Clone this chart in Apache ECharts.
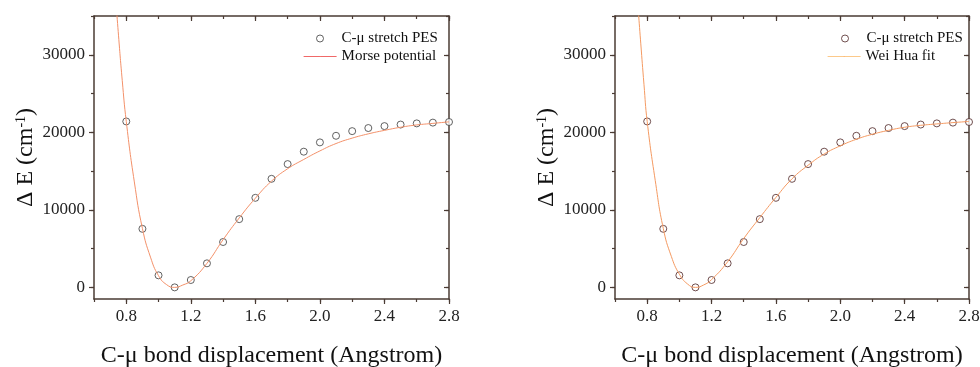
<!DOCTYPE html>
<html><head><meta charset="utf-8">
<script src="https://cdn.jsdelivr.net/npm/echarts@6/dist/echarts.min.js"></script>
<style>html,body{margin:0;padding:0;background:#fff}#c{width:980px;height:367px}</style>
</head><body><div id="c"></div>
<script>
// ---- data ----
const pesX = [0.8,0.9,1.0,1.1,1.2,1.3,1.4,1.5,1.6,1.7,1.8,1.9,2.0,2.1,2.2,2.3,2.4,2.5,2.6,2.7,2.8];
const pesY = [21400,7550,1550,0,950,3100,5850,8800,11550,14000,15900,17500,18700,19550,20150,20550,20800,21000,21150,21250,21330];
const morseX = [0.73,0.75,0.775,0.8,0.85,0.9,0.95,1.0,1.05,1.1,1.15,1.2,1.3,1.4,1.5,1.6,1.7,1.8,1.9,2.0,2.1,2.2,2.3,2.4,2.5,2.6,2.7,2.8];
const morseY = [38500,33000,26700,21400,13600,7600,3900,1500,350,0,300,850,3100,6150,8950,11500,13700,15300,16500,17600,18550,19250,19800,20250,20650,20950,21150,21350];
const weiX = [0.74,0.76,0.78,0.8,0.85,0.9,0.95,1.0,1.05,1.1,1.15,1.2,1.3,1.4,1.5,1.6,1.7,1.8,1.9,2.0,2.1,2.2,2.3,2.4,2.5,2.6,2.7,2.8];
const weiY = [37000,31500,26200,21400,13800,7600,4000,1700,450,0,300,1000,3300,6300,9000,11600,14000,15750,17200,18250,19100,19750,20250,20650,20900,21080,21250,21400];
const xTickLabels = ['0.8','1.2','1.6','2.0','2.4','2.8'];
const yTickLabels = ['0','10000','20000','30000'];
const xTitle = 'C-μ bond displacement (Angstrom)';
const yTitle = '{a|Δ E (cm}{s|-1}{a|)}';
const pesName = 'C-μ stretch PES';
const fitNames = ['Morse potential', 'Wei Hua fit'];

// ---- layout / style ----
const FONT = 'Liberation Serif';
const AX = '#4a3b33';
const XMIN = 0.6, XMAX = 2.8, YMIN = -1500, YMAX = 35000;
const panels = [
  {L:94, R:449, T:16, B:299, legendLeft1:311, legendLeft2:298, pesColor:'#3c3c3c', fx:morseX, fy:morseY, fitColor:'#f3916a', legendLine:'#f06868'},
  {L:615, R:969, T:16, B:299, legendLeft1:836, legendLeft2:822, pesColor:'#4e2424', fx:weiX, fy:weiY, fitColor:'#f49a62', legendLine:'#fcc98a'}
];
const px = (p, v) => p.L + (v - XMIN) / (XMAX - XMIN) * (p.R - p.L);
const py = (p, v) => p.B - (v - YMIN) / (YMAX - YMIN) * (p.B - p.T);

const grid = [], xAxis = [], yAxis = [], series = [], legend = [];
const line = (show) => ({show: show, onZero: false, lineStyle: {color: AX, width: 1.5}});
const tick = (show, inside, len) => ({show: show, inside: inside, length: len, lineStyle: {color: AX, width: 1.2}});
const noSplit = {show: false};
const mkGrid = (l, t, w, h) => ({left: l, top: t, width: w, height: h, containLabel: false, outerBoundsMode: 'none'});
const legendText = {fontFamily: FONT, fontSize: 15, color: '#111'};

panels.forEach((p, i) => {
  // g0 : data grid with frame
  const g0 = grid.length;
  grid.push(mkGrid(p.L, p.T, p.R - p.L, p.B - p.T));
  const x0 = xAxis.length;
  xAxis.push({type:'value', gridIndex:g0, position:'bottom', min:XMIN, max:XMAX, interval:0.2,
    axisLine: line(true), axisTick: tick(true, false, 3), axisLabel: {show:false}, splitLine: noSplit,
    name: xTitle, nameLocation:'middle', nameGap: 45,
    nameTextStyle: {fontFamily: FONT, fontSize: 24, color: '#111'}});
  xAxis.push({type:'value', gridIndex:g0, position:'top', min:XMIN, max:XMAX, interval:0.2,
    axisLine: line(true), axisTick: tick(true, true, 3), axisLabel: {show:false}, splitLine: noSplit});
  const y0 = yAxis.length;
  yAxis.push({type:'value', gridIndex:g0, position:'left', min:YMIN, max:YMAX,
    axisLine: line(true), axisTick: {show:false}, axisLabel: {show:false}, splitLine: noSplit,
    name: yTitle, nameLocation:'middle', nameRotate: 90, nameGap: 56,
    nameTextStyle: {fontFamily: FONT, fontSize: 24, color: '#111',
      rich: {a: {fontFamily: FONT, fontSize: 24, color: '#111'},
             s: {fontFamily: FONT, fontSize: 14, color: '#111', verticalAlign: 'top', padding: [0, 0, 8, 0]}}}});
  yAxis.push({type:'value', gridIndex:g0, position:'right', min:YMIN, max:YMAX,
    axisLine: line(true), axisTick: {show:false}, axisLabel: {show:false}, splitLine: noSplit});

  // g1 : major ticks + labels
  const g1 = grid.length;
  const gl = px(p, 0.8), gr = px(p, 2.8), gt = py(p, 30000), gb = py(p, 0);
  grid.push(mkGrid(gl, gt, gr - gl, gb - gt));
  xAxis.push({type:'value', gridIndex:g1, position:'bottom', offset: p.B - gb, min:0.8, max:2.8, interval:0.4,
    axisLine: line(false), axisTick: tick(true, false, 5), splitLine: noSplit,
    axisLabel: {show:true, margin: 9, showMinLabel:true, showMaxLabel:true, fontFamily: FONT, fontSize: 17, color:'#222',
      formatter: (v) => xTickLabels[Math.round((v - 0.8) / 0.4)] || ''}});
  xAxis.push({type:'value', gridIndex:g1, position:'top', offset: gt - p.T, min:0.8, max:2.8, interval:0.4,
    axisLine: line(false), axisTick: tick(true, true, 5), axisLabel: {show:false}, splitLine: noSplit});
  yAxis.push({type:'value', gridIndex:g1, position:'left', offset: gl - p.L, min:0, max:30000, interval:10000,
    axisLine: line(false), axisTick: tick(true, false, 5), splitLine: noSplit,
    axisLabel: {show:true, margin: 9, showMinLabel:true, showMaxLabel:true, fontFamily: FONT, fontSize: 17, color:'#222',
      formatter: (v) => yTickLabels[Math.round(v / 10000)] || ''}});
  yAxis.push({type:'value', gridIndex:g1, position:'right', offset: p.R - gr, min:0, max:30000, interval:10000,
    axisLine: line(false), axisTick: tick(true, true, 5), axisLabel: {show:false}, splitLine: noSplit});

  // g2 : minor y ticks
  const g2 = grid.length;
  grid.push(mkGrid(p.L, p.T, p.R - p.L, gb - p.T));
  xAxis.push({type:'value', gridIndex:g2, show:false, min:XMIN, max:XMAX});
  yAxis.push({type:'value', gridIndex:g2, position:'left', min:0, max:35000, interval:5000,
    axisLine: line(false), axisTick: tick(true, false, 3), axisLabel: {show:false}, splitLine: noSplit});
  yAxis.push({type:'value', gridIndex:g2, position:'right', min:0, max:35000, interval:5000,
    axisLine: line(false), axisTick: tick(true, true, 3), axisLabel: {show:false}, splitLine: noSplit});

  series.push({type:'scatter', name: pesName, xAxisIndex: x0, yAxisIndex: y0, symbol:'circle', symbolSize: 7,
    itemStyle: {color:'#fff', borderColor: p.pesColor, borderWidth: 1}, z: 2,
    data: pesX.map((x, k) => [x, pesY[k]])});
  series.push({type:'line', name: fitNames[i], xAxisIndex: x0, yAxisIndex: y0, smooth: true, symbol:'none',
    lineStyle: {color: p.fitColor, width: 1}, itemStyle: {color: p.fitColor}, z: 3,
    data: p.fx.map((x, k) => [x, p.fy[k]])});

  // legend row 1 : scatter
  legend.push({orient:'vertical', left: p.legendLeft1, top: 26, itemWidth: 33, itemHeight: 7,
    selectedMode: false, textStyle: legendText,
    data: [{name: pesName, icon: 'circle', itemStyle: {color: '#fff', borderColor: p.pesColor, borderWidth: 1}}]});
  // legend row 2 : fitted line
  legend.push({orient:'vertical', left: p.legendLeft2, top: 44, itemWidth: 33, itemHeight: 1,
    selectedMode: false, textStyle: legendText,
    data: [{name: fitNames[i], lineStyle: {color: p.legendLine, width: 1.2}}]});
});

const chart = echarts.init(document.getElementById('c'), null, {renderer: 'canvas'});
chart.setOption({animation: false, backgroundColor: '#fff', grid, xAxis, yAxis, series, legend});
</script>
</body></html>
